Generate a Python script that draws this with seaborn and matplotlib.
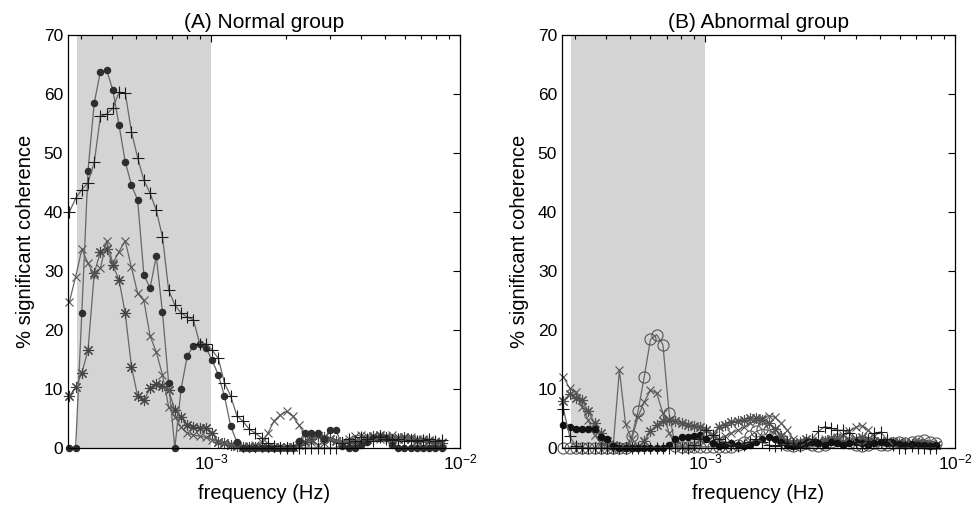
import numpy as np
import seaborn as sns
import matplotlib
matplotlib.use("Agg")
import matplotlib.pyplot as plt
from matplotlib.ticker import LogLocator, NullFormatter

# frequency grid of the coherence analysis (log spaced, Hz)
freq = np.geomspace(2.70e-4, 8.43e-3, 61)
band = (2.9e-4, 1e-3)   # shaded low-frequency band

# (A) Normal group, % significant coherence
dots_A = [0, 0, 22.9, 47, 58.5, 63.8, 64, 60.7, 54.7, 48.5,
          44.6, 42, 29.4, 27.1, 32.5, 23, 11, 0, 10, 15.6,
          17.3, 17.6, 17, 14.9, 12.4, 8.8, 3.7, 1.0, 0, 0,
          0, 0, 0, 0, 0, 0, 0, 1.2, 2.6, 2.6,
          2.6, 1.5, 3.0, 3.0, 0.3, 0, 0, 0.5, 1.0, 1.7,
          1.7, 1.7, 0.5, 0, 0, 0, 0, 0, 0, 0,
          0]
plus_A = [40, 42.3, 43.8, 45, 48.4, 56.2, 56.6, 57.6, 60.3, 60.2,
          53.6, 49.2, 45.4, 43.2, 40.3, 35.8, 26.8, 24.2, 22.9, 22.2,
          21.7, 17.7, 17.7, 16.6, 15.2, 11, 8.8, 5.5, 4.5, 3.2,
          2.5, 1.7, 0.8, 0.3, 0, 0, 0, 0, 0, 0,
          0, 0, 0, 0, 0.8, 1.5, 1.2, 1.8, 1.5, 1.2,
          1.8, 1.5, 1.3, 1.5, 1.2, 1.4, 1.2, 1.3, 1.5, 1.2,
          1.3]
x_A = [24.8, 29, 33.7, 31.3, 29.3, 30.5, 35.1, 31.3, 33.3, 35.1,
       30.6, 26.2, 25, 19, 16.3, 12.4, 7, 5.3, 3.5, 2.5,
       2.2, 2.0, 1.8, 1.4, 1.0, 0.8, 0.6, 0.4, 0.3, 0.3,
       0.5, 1.0, 2.5, 4.6, 5.6, 6.2, 5.4, 3.9, 2.2, 1.0,
       0.5, 0.8, 1.5, 1.2, 0.8, 1.5, 2.0, 2.2, 2.0, 1.8,
       1.5, 2.0, 2.2, 1.8, 1.5, 1.8, 1.6, 1.5, 1.3, 1.2,
       1.0]
star_A = [8.8, 10.3, 12.7, 16.6, 29.6, 33.3, 33.8, 31, 28.5, 22.8,
          13.8, 8.8, 8.1, 10.1, 10.8, 10.5, 9.8, 6.4, 5.3, 3.9,
          3.6, 3.4, 3.4, 2.5, 1.1, 0.8, 0.5, 0.3, 0.2, 0.2,
          0.2, 0.2, 0.2, 0.2, 0.2, 0.2, 0.2, 0.5, 1.0, 1.5,
          2.0, 1.8, 1.5, 1.2, 1.0, 0.8, 1.0, 1.2, 1.5, 2.0,
          2.2, 1.8, 1.5, 1.5, 1.8, 1.5, 1.2, 1.4, 1.2, 1.0,
          0.8]

# (B) Abnormal group
circ_B = [0, 0, 0, 0, 0, 0, 0, 0, 0, 0,
          0, 2.0, 6.2, 12.1, 18.4, 19.2, 17.5, 5.9, 0.3, 0.2,
          0.2, 0.2, 0.2, 0.2, 0.2, 0.2, 0.2, 0.2, 0.5, 1.0,
          2.0, 2.8, 3.2, 3.0, 2.5, 1.5, 0.5, 0.3, 0.5, 0.8,
          0.5, 0.3, 0.5, 1.0, 1.5, 1.2, 0.8, 0.5, 0.3, 0.5,
          0.8, 0.5, 0.5, 0.8, 1.0, 0.8, 1.0, 1.2, 1.3, 1.1,
          0.8]
x_B = [12.1, 10.1, 9.5, 7, 4.7, 2.2, 0.8, 0.3, 0.3, 13.2,
       4.0, 1.5, 5.3, 7.8, 9.8, 9.3, 5.9, 2.5, 0.5, 0.3,
       0.3, 0.5, 1.5, 3.0, 2.0, 1.5, 2.0, 2.5, 3.0, 3.5,
       4.2, 4.6, 5.0, 5.5, 5.2, 4.2, 3.0, 1.5, 0.8, 0.5,
       0.8, 1.2, 1.5, 1.5, 1.8, 2.2, 2.8, 3.5, 3.8, 3.0,
       2.0, 1.2, 1.0, 0.8, 1.0, 0.8, 0.8, 1.0, 0.8, 0.6,
       0.5]
star_B = [8.0, 9.2, 8.5, 8.1, 6.2, 4.2, 2.5, 1.2, 0.5, 0.2,
          0.2, 0.2, 0.2, 1.2, 2.8, 3.9, 4.6, 4.7, 4.6, 4.2,
          3.9, 3.7, 3.6, 3.0, 2.2, 3.6, 3.9, 4.4, 4.6, 4.8,
          5.0, 5.0, 4.8, 4.2, 3.2, 2.0, 1.2, 0.8, 1.0, 1.5,
          1.2, 1.0, 1.2, 1.5, 1.2, 1.0, 1.2, 1.5, 1.8, 1.5,
          1.2, 1.0, 1.2, 1.0, 0.8, 0.8, 0.7, 0.8, 0.6, 0.5,
          0.5]
dot_B = [3.9, 3.6, 3.3, 3.3, 3.3, 3.3, 1.9, 1.6, 0.3, 0,
         0, 0, 0, 0, 0, 0, 0, 0.5, 1.5, 1.9,
         1.9, 2.0, 2.2, 1.5, 0.8, 0.3, 0.5, 0.8, 0.5, 0.3,
         0.5, 1.0, 1.5, 1.8, 1.5, 1.0, 0.5, 0.3, 0.5, 0.8,
         1.0, 0.8, 0.5, 1.0, 0.8, 0.5, 0.8, 1.0, 0.8, 0.5,
         0.8, 1.0, 0.8, 0.8, 0.6, 0.5, 0.6, 0.5, 0.5, 0.4,
         0.5]
plus_B = [6.6, 2.0, 0.3, 0, 0, 0, 0, 0, 0, 0,
          0, 0, 0, 0, 0, 0, 0, 0, 0, 0,
          0, 0.5, 1.5, 3.0, 2.2, 1.5, 1.0, 0.5, 0.3, 0.5,
          1.0, 1.5, 1.0, 0.5, 0.3, 0.5, 0.8, 0.5, 0.3, 0.8,
          1.5, 2.8, 3.6, 3.4, 3.0, 3.0, 2.5, 1.0, 0.5, 1.2,
          2.5, 2.7, 1.5, 0.5, 0, 0, 0.3, 0, 0, 0,
          0]

ASTERISK = (8, 2, 0)
LINE_COLOR = "#666666"

sns.set_style("white")
plt.rcParams["font.family"] = ["Liberation Sans", "DejaVu Sans"]
plt.rcParams["mathtext.default"] = "regular"
plt.rcParams["text.color"] = "black"
plt.rcParams["axes.labelcolor"] = "black"


def draw(ax, y, marker, ms, color, filled=True, mew=0.9):
    sns.lineplot(x=freq, y=y, ax=ax, color=LINE_COLOR, linewidth=0.9,
                 marker=marker, markersize=ms, markeredgecolor=color,
                 markerfacecolor=color if filled else "none",
                 markeredgewidth=mew, errorbar=None, clip_on=False)


def style_axes(ax, title):
    ax.axvspan(band[0], band[1], color="#d4d4d4", zorder=0, lw=0)
    ax.set_xscale("log")
    ax.set_xlim(2.665e-4, 1e-2)
    ax.set_ylim(0, 70)
    ax.set_yticks(range(0, 71, 10))
    ax.xaxis.set_major_locator(LogLocator(base=10))
    ax.xaxis.set_minor_locator(LogLocator(base=10, subs=range(2, 10)))
    ax.xaxis.set_minor_formatter(NullFormatter())
    ax.tick_params(which="both", direction="in", top=True, right=True,
                   labelsize=12.5, colors="black", width=0.8)
    ax.tick_params(which="major", length=5)
    ax.tick_params(which="minor", length=3)
    for s in ax.spines.values():
        s.set_color("black")
        s.set_linewidth(0.9)
    ax.set_xlabel("frequency (Hz)", fontsize=14.5, labelpad=8, color="black")
    ax.set_ylabel("% significant coherence", fontsize=14.5, labelpad=6, color="black")
    ax.set_title(title, fontsize=15, pad=5, color="black")


fig = plt.figure(figsize=(9.73, 5.11), dpi=100)
ax_a = fig.add_axes([0.0699, 0.1233, 0.4029, 0.8082])
ax_b = fig.add_axes([0.5776, 0.1233, 0.4039, 0.8082])

for ax in (ax_a, ax_b):
    ax.set_xscale("log")

# Normal group
draw(ax_a, star_A, ASTERISK, 8, "#444444", mew=0.8)
draw(ax_a, x_A, "x", 5.5, "#555555", mew=0.8)
draw(ax_a, dots_A, "o", 4.5, "#2e2e2e")
draw(ax_a, plus_A, "+", 9, "#1a1a1a", mew=0.8)
style_axes(ax_a, "(A) Normal group")

# Abnormal group
draw(ax_b, circ_B, "o", 8, "#555555", filled=False, mew=0.8)
draw(ax_b, x_B, "x", 6, "#555555", mew=0.8)
draw(ax_b, star_B, ASTERISK, 8, "#505050", mew=0.8)
draw(ax_b, dot_B, "o", 4.5, "#111111")
draw(ax_b, plus_B, "+", 9, "#1a1a1a", mew=0.8)
style_axes(ax_b, "(B) Abnormal group")

fig.savefig("out.png", dpi=100)
